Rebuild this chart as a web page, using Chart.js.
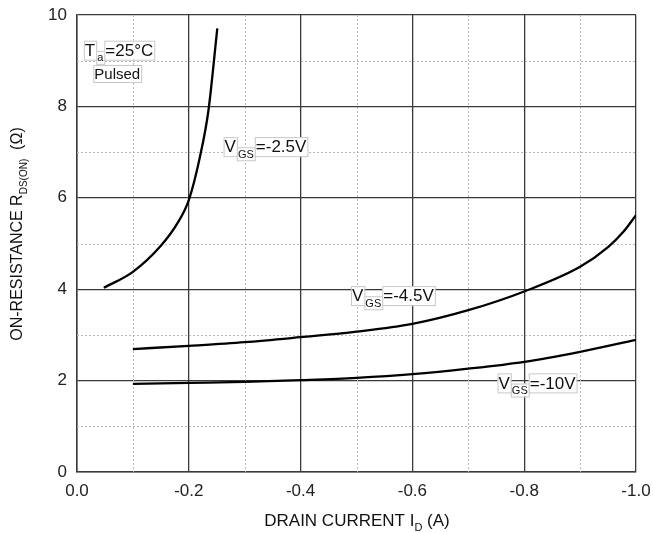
<!DOCTYPE html>
<html>
<head>
<meta charset="utf-8">
<script src="https://cdn.jsdelivr.net/npm/chart.js@4"></script>
<style>
html,body{margin:0;padding:0;background:#fff;}
#wrap{width:653px;height:533px;position:relative;}
</style>
</head>
<body>
<div id="wrap"><canvas id="c" width="653" height="533"></canvas></div>
<script>
// ---- data ----
const xTicksMajor = [0.0, -0.2, -0.4, -0.6, -0.8, -1.0];
const yTicksMajor = [0, 2, 4, 6, 8, 10];

const vgs25_x = [-0.048, -0.1, -0.15, -0.18, -0.2, -0.22, -0.235, -0.251];
const vgs25_y = [4.03, 4.38, 4.95, 5.45, 5.95, 6.9, 7.9, 9.71];

const vgs45_x = [-0.1, -0.2, -0.3, -0.4, -0.5, -0.6, -0.7, -0.8, -0.9, -0.95, -0.977, -1.0];
const vgs45_y = [2.69, 2.76, 2.84, 2.95, 3.07, 3.24, 3.54, 3.95, 4.49, 4.92, 5.25, 5.62];

const vgs10_x = [-0.1, -0.2, -0.3, -0.4, -0.5, -0.6, -0.7, -0.8, -0.9, -1.0];
const vgs10_y = [1.93, 1.95, 1.97, 2.01, 2.06, 2.14, 2.26, 2.41, 2.63, 2.89];

const seriesNames = ['VGS=-2.5V', 'VGS=-4.5V', 'VGS=-10V'];

function pts(xs, ys){ return xs.map((x,i)=>({x:x, y:ys[i]})); }

const FONT = '"Liberation Sans", Arial, sans-serif';

function isMajorX(v){ return Math.abs(Math.round(v*10)) % 2 === 0; }
function isMajorY(v){ return Math.round(v) % 2 === 0; }

function drawParts(ctx, x, yc, parts, size){
  let cx = x;
  parts.forEach(p=>{
    const fs = p.sub ? Math.round(size*0.62) : size;
    ctx.font = fs + 'px ' + FONT;
    const w = ctx.measureText(p.t).width;
    const yy = p.sub ? yc + size*0.42 : yc;
    const h = fs*1.0;
    ctx.fillStyle = '#fff';
    ctx.strokeStyle = '#c8c8c8';
    ctx.lineWidth = 1;
    ctx.fillRect(cx-1, yy-h/2-1, w+2, h+2);
    ctx.strokeRect(cx-1+0.5, yy-h/2-1+0.5, w+2, h+2);
    ctx.fillStyle = '#111';
    ctx.textBaseline = 'middle';
    ctx.textAlign = 'left';
    ctx.fillText(p.t, cx, yy+1);
    cx += w + 2;
  });
}

function drawTitle(ctx, parts, cx, cy, size, rot){
  let total = 0;
  parts.forEach(p=>{
    ctx.font = (p.sub? Math.round(size*0.62): size) + 'px ' + FONT;
    total += ctx.measureText(p.t).width;
  });
  ctx.save();
  ctx.translate(cx, cy);
  ctx.rotate(rot);
  let x = -total/2;
  parts.forEach(p=>{
    const fs = p.sub? Math.round(size*0.62): size;
    ctx.font = fs + 'px ' + FONT;
    ctx.fillStyle = '#111';
    ctx.textBaseline = 'alphabetic';
    ctx.textAlign = 'left';
    ctx.fillText(p.t, x, p.sub ? size*0.3 : 0);
    x += ctx.measureText(p.t).width;
  });
  ctx.restore();
}

const labelsPlugin = {
  id: 'labelsPlugin',
  beforeDatasetsDraw(chart){
    const ctx = chart.ctx, xs = chart.scales.x, ys = chart.scales.y, a = chart.chartArea;
    ctx.save();
    ctx.strokeStyle = '#b8b8b8';
    ctx.lineWidth = 1;
    ctx.setLineDash([2,2]);
    xs.ticks.forEach(t=>{
      if(!isMajorX(t.value)){
        const px = Math.round(xs.getPixelForValue(t.value))+0.5;
        ctx.beginPath(); ctx.moveTo(px, a.top); ctx.lineTo(px, a.bottom); ctx.stroke();
      }
    });
    ys.ticks.forEach(t=>{
      if(!isMajorY(t.value)){
        const py = Math.round(ys.getPixelForValue(t.value))+0.5;
        ctx.beginPath(); ctx.moveTo(a.left, py); ctx.lineTo(a.right, py); ctx.stroke();
      }
    });
    ctx.restore();
  },
  afterDatasetsDraw(chart){
    const ctx = chart.ctx, xs = chart.scales.x, ys = chart.scales.y;
    ctx.save();
    const P = (x,y)=>[xs.getPixelForValue(x), ys.getPixelForValue(y)];
    let p;
    p = P(-0.014, 9.23);
    drawParts(ctx, p[0], p[1], [{t:'T'},{t:'a',sub:true},{t:'=25°C'}], 17);
    p = P(-0.031, 8.72);
    drawParts(ctx, p[0], p[1], [{t:'Pulsed'}], 15);
    p = P(-0.264, 7.12);
    drawParts(ctx, p[0], p[1], [{t:'V'},{t:'GS',sub:true},{t:'=-2.5V'}], 17);
    p = P(-0.492, 3.86);
    drawParts(ctx, p[0], p[1], [{t:'V'},{t:'GS',sub:true},{t:'=-4.5V'}], 17);
    p = P(-0.754, 1.95);
    drawParts(ctx, p[0], p[1], [{t:'V'},{t:'GS',sub:true},{t:'=-10V'}], 17);

    drawTitle(ctx, [{t:'DRAIN CURRENT I'},{t:'D',sub:true},{t:' (A)'}], 357, 526, 17, 0);
    drawTitle(ctx, [{t:'ON-RESISTANCE R'},{t:'DS(ON)',sub:true},{t:'  (Ω)'}], 22, 234, 16, -Math.PI/2);
    ctx.restore();
  }
};

const mk = (name, xs, ys)=>({
  label: name,
  data: pts(xs, ys),
  borderColor: '#000',
  borderWidth: 2.3,
  pointRadius: 0,
  fill: false,
  cubicInterpolationMode: 'monotone'
});

new Chart(document.getElementById('c'), {
  type: 'line',
  data: {
    datasets: [
      mk(seriesNames[0], vgs25_x, vgs25_y),
      mk(seriesNames[1], vgs45_x, vgs45_y),
      mk(seriesNames[2], vgs10_x, vgs10_y)
    ]
  },
  options: {
    responsive: false,
    animation: false,
    devicePixelRatio: 1,
    layout: { padding: { top: 15, right: 17, left: 0, bottom: 0 } },
    plugins: { legend: { display: false }, tooltip: { enabled: false } },
    scales: {
      x: {
        type: 'linear',
        min: -1.0, max: 0, reverse: true,
        afterFit(s){ s.height = 61; s.paddingLeft = 0; s.paddingRight = 0; },
        ticks: {
          stepSize: 0.1, padding: 9, color: '#222',
          font: { family: FONT, size: 17 },
          maxRotation: 0, autoSkip: false,
          callback(v){
            if(!isMajorX(v)) return '';
            const r = Math.round(v*10)/10;
            const lab = xTicksMajor.find(t=>Math.abs(t-r)<1e-6);
            return lab===undefined ? '' : (lab===0 ? '0.0' : lab.toFixed(1));
          }
        },
        grid: {
          drawTicks: false,
          lineWidth: 1.3,
          color(ctx){ return (ctx.tick && !isMajorX(ctx.tick.value)) ? 'rgba(0,0,0,0)' : '#3a3a3a'; }
        },
        border: { display: true, color: '#3a3a3a', width: 1.5 }
      },
      y: {
        type: 'linear',
        min: 0, max: 10,
        afterFit(s){ s.width = 77; s.paddingTop = 0; s.paddingBottom = 0; },
        ticks: {
          stepSize: 1, padding: 10, color: '#222',
          font: { family: FONT, size: 17 },
          autoSkip: false,
          callback(v){
            if(!isMajorY(v)) return '';
            const lab = yTicksMajor.find(t=>Math.abs(t-v)<1e-6);
            return lab===undefined ? '' : String(lab);
          }
        },
        grid: {
          drawTicks: false,
          lineWidth: 1.3,
          color(ctx){ return (ctx.tick && !isMajorY(ctx.tick.value)) ? 'rgba(0,0,0,0)' : '#3a3a3a'; }
        },
        border: { display: true, color: '#3a3a3a', width: 1.5 }
      }
    }
  },
  plugins: [labelsPlugin]
});
</script>
</body>
</html>
